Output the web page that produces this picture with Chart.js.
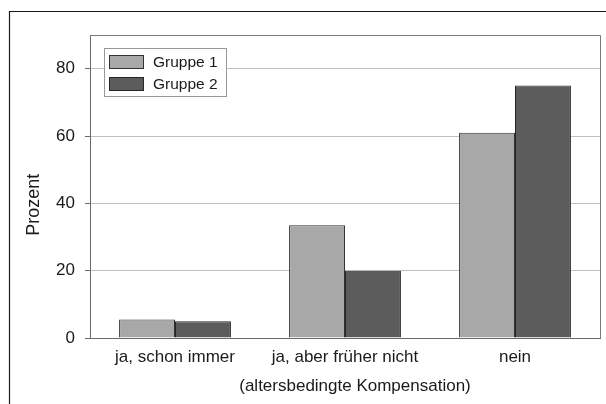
<!DOCTYPE html>
<html lang="de">
<head>
<meta charset="utf-8">
<title>Kompensation nach Gruppe</title>
<script src="https://cdn.jsdelivr.net/npm/chart.js@4/dist/chart.umd.min.js"></script>
<style>
  html, body { margin: 0; padding: 0; background: #ffffff; }
  canvas { display: block; }
</style>
</head>
<body>
<canvas id="chart" width="606" height="404"></canvas>
<script>
// Antworten (Kategorien) und Anteile je Gruppe in Prozent
const categories = ['ja, schon immer', 'ja, aber früher nicht', 'nein'];
const seriesNames = ['Gruppe 1', 'Gruppe 2'];
const gruppe1 = [5.5, 33.5, 61];
const gruppe2 = [5, 20, 75];
const yTicks = [0, 20, 40, 60, 80];
const yTitle = 'Prozent';
const xTitle = '(altersbedingte Kompensation)';

const FONT = "'Liberation Sans', Arial, sans-serif";
const TEXT = '#1a1a1a';

// Rahmen, Plotrand, Achsentitel und Legende
const decorations = {
  id: 'decorations',
  beforeDraw(chart) {
    const ctx = chart.ctx;
    ctx.save();
    ctx.fillStyle = '#ffffff';
    ctx.fillRect(0, 0, chart.width, chart.height);
    ctx.strokeStyle = '#1a1a1a';
    ctx.lineWidth = 1.2;
    ctx.beginPath();
    ctx.moveTo(9.5, chart.height);
    ctx.lineTo(9.5, 11.5);
    ctx.lineTo(chart.width, 11.5);
    ctx.stroke();
    ctx.restore();
  },
  beforeDatasetsDraw(chart) {
    const { ctx, chartArea: a } = chart;
    ctx.save();
    ctx.strokeStyle = '#7a7a7a';
    ctx.lineWidth = 1;
    ctx.beginPath();
    ctx.moveTo(Math.round(a.left) + 0.5, Math.round(a.top) + 0.5);
    ctx.lineTo(Math.round(a.right) + 0.5, Math.round(a.top) + 0.5);
    ctx.lineTo(Math.round(a.right) + 0.5, Math.round(a.bottom) + 0.5);
    ctx.stroke();
    ctx.restore();
  },
  afterDraw(chart) {
    const { ctx, chartArea: a } = chart;
    ctx.save();
    ctx.fillStyle = TEXT;

    // y-Achsentitel
    ctx.save();
    ctx.font = '18px ' + FONT;
    ctx.translate(34, a.top + (a.bottom - a.top) * 0.56);
    ctx.rotate(-Math.PI / 2);
    ctx.textAlign = 'center';
    ctx.textBaseline = 'middle';
    ctx.fillText(yTitle, 0, 0);
    ctx.restore();

    // x-Achsentitel
    ctx.font = '17px ' + FONT;
    ctx.textAlign = 'center';
    ctx.textBaseline = 'alphabetic';
    ctx.fillText(xTitle, (a.left + a.right) / 2 + 10, 391);

    // Legende
    const lx = a.left + 14, ly = a.top + 13;
    ctx.fillStyle = '#ffffff';
    ctx.fillRect(lx, ly, 122, 48);
    ctx.strokeStyle = '#999999';
    ctx.lineWidth = 1;
    ctx.strokeRect(lx + 0.5, ly + 0.5, 122, 48);
    ctx.font = '15.5px ' + FONT;
    ctx.textAlign = 'left';
    ctx.textBaseline = 'middle';
    chart.data.datasets.forEach((ds, i) => {
      const sy = ly + 7 + i * 22;
      ctx.fillStyle = ds.backgroundColor;
      ctx.fillRect(lx + 5.5, sy + 0.5, 34, 13);
      ctx.strokeStyle = ds.borderColor;
      ctx.strokeRect(lx + 5.5, sy + 0.5, 34, 13);
      ctx.fillStyle = TEXT;
      ctx.fillText(ds.label, lx + 49, sy + 7.5);
    });
    ctx.restore();
  }
};

new Chart(document.getElementById('chart'), {
  type: 'bar',
  data: {
    labels: categories,
    datasets: [
      { label: seriesNames[0], data: gruppe1, backgroundColor: '#a8a8a8', borderColor: '#333333', borderWidth: 1 },
      { label: seriesNames[1], data: gruppe2, backgroundColor: '#5c5c5c', borderColor: '#262626', borderWidth: 1 }
    ]
  },
  options: {
    responsive: false,
    devicePixelRatio: 1,
    animation: false,
    datasets: { bar: { categoryPercentage: 0.658, barPercentage: 1 } },
    layout: { padding: { left: 9, top: 35, right: 6, bottom: 0 } },
    plugins: { legend: { display: false }, tooltip: { enabled: false } },
    scales: {
      x: {
        grid: { display: false, drawTicks: false },
        border: { display: true, color: '#6a6a6a', width: 1 },
        ticks: { color: TEXT, font: { family: FONT, size: 17 }, padding: 9, maxRotation: 0 },
        afterFit(scale) { scale.height = 66; scale.paddingLeft = 0; scale.paddingRight = 0; }
      },
      y: {
        min: 0,
        max: 90,
        afterBuildTicks(scale) { scale.ticks = yTicks.map(v => ({ value: v })); },
        grid: { color: '#c0c0c0', tickColor: '#6a6a6a', tickLength: 5, drawTicks: true },
        border: { display: true, color: '#6a6a6a', width: 1 },
        ticks: { color: TEXT, font: { family: FONT, size: 17 }, padding: 10 },
        afterFit(scale) { scale.width = 81; scale.paddingTop = 0; scale.paddingBottom = 0; }
      }
    }
  },
  plugins: [decorations]
});
</script>
</body>
</html>
